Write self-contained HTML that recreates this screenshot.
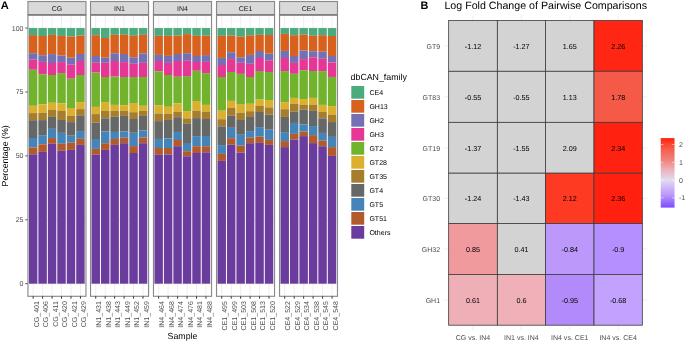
<!DOCTYPE html><html><head><meta charset="utf-8"><style>html,body{margin:0;padding:0;background:#fff;width:685px;height:342px;overflow:hidden}svg{display:block;will-change:transform}text{font-family:"Liberation Sans",sans-serif;text-rendering:geometricPrecision}</style></head><body>
<svg width="685" height="342" viewBox="0 0 685 342">
<rect width="685" height="342" fill="#fff"/>
<text x="0.7" y="8.8" font-size="11.1" font-weight="bold" fill="#000">A</text>
<line x1="27.95" x2="85.96" y1="251.74" y2="251.74" stroke="#F2F2F2" stroke-width="0.5"/>
<line x1="27.95" x2="85.96" y1="187.83" y2="187.83" stroke="#F2F2F2" stroke-width="0.5"/>
<line x1="27.95" x2="85.96" y1="123.92" y2="123.92" stroke="#F2F2F2" stroke-width="0.5"/>
<line x1="27.95" x2="85.96" y1="60.01" y2="60.01" stroke="#F2F2F2" stroke-width="0.5"/>
<line x1="27.95" x2="85.96" y1="283.7" y2="283.7" stroke="#EBEBEB" stroke-width="0.85"/>
<line x1="27.95" x2="85.96" y1="219.79" y2="219.79" stroke="#EBEBEB" stroke-width="0.85"/>
<line x1="27.95" x2="85.96" y1="155.88" y2="155.88" stroke="#EBEBEB" stroke-width="0.85"/>
<line x1="27.95" x2="85.96" y1="91.96" y2="91.96" stroke="#EBEBEB" stroke-width="0.85"/>
<line x1="27.95" x2="85.96" y1="28.05" y2="28.05" stroke="#EBEBEB" stroke-width="0.85"/>
<line x1="33.15" x2="33.15" y1="14.9" y2="296.3" stroke="#EBEBEB" stroke-width="0.85"/>
<line x1="42.61" x2="42.61" y1="14.9" y2="296.3" stroke="#EBEBEB" stroke-width="0.85"/>
<line x1="52.07" x2="52.07" y1="14.9" y2="296.3" stroke="#EBEBEB" stroke-width="0.85"/>
<line x1="61.53" x2="61.53" y1="14.9" y2="296.3" stroke="#EBEBEB" stroke-width="0.85"/>
<line x1="70.99" x2="70.99" y1="14.9" y2="296.3" stroke="#EBEBEB" stroke-width="0.85"/>
<line x1="80.45" x2="80.45" y1="14.9" y2="296.3" stroke="#EBEBEB" stroke-width="0.85"/>
<rect x="28.92" y="28.05" width="8.45" height="7.05" fill="#4BAA7E"/>
<rect x="28.92" y="35.1" width="8.45" height="18.1" fill="#D8611D"/>
<rect x="28.92" y="53.2" width="8.45" height="6.5" fill="#7570B3"/>
<rect x="28.92" y="59.7" width="8.45" height="10.1" fill="#E73796"/>
<rect x="28.92" y="69.8" width="8.45" height="36" fill="#72B32E"/>
<rect x="28.92" y="105.8" width="8.45" height="7.3" fill="#DAB02E"/>
<rect x="28.92" y="113.1" width="8.45" height="7.1" fill="#A57D2C"/>
<rect x="28.92" y="120.2" width="8.45" height="17.8" fill="#656866"/>
<rect x="28.92" y="138" width="8.45" height="9.5" fill="#4584B8"/>
<rect x="28.92" y="147.5" width="8.45" height="6.8" fill="#B25A2C"/>
<rect x="28.92" y="154.3" width="8.45" height="129.4" fill="#6A3C9E"/>
<rect x="38.38" y="28.05" width="8.45" height="7.95" fill="#4BAA7E"/>
<rect x="38.38" y="36" width="8.45" height="19.2" fill="#D8611D"/>
<rect x="38.38" y="55.2" width="8.45" height="6.7" fill="#7570B3"/>
<rect x="38.38" y="61.9" width="8.45" height="12.3" fill="#E73796"/>
<rect x="38.38" y="74.2" width="8.45" height="30.1" fill="#72B32E"/>
<rect x="38.38" y="104.3" width="8.45" height="8.5" fill="#DAB02E"/>
<rect x="38.38" y="112.8" width="8.45" height="7.3" fill="#A57D2C"/>
<rect x="38.38" y="120.1" width="8.45" height="15.05" fill="#656866"/>
<rect x="38.38" y="135.15" width="8.45" height="9.15" fill="#4584B8"/>
<rect x="38.38" y="144.3" width="8.45" height="7.6" fill="#B25A2C"/>
<rect x="38.38" y="151.9" width="8.45" height="131.8" fill="#6A3C9E"/>
<rect x="47.84" y="28.05" width="8.45" height="6.85" fill="#4BAA7E"/>
<rect x="47.84" y="34.9" width="8.45" height="19.2" fill="#D8611D"/>
<rect x="47.84" y="54.1" width="8.45" height="8.9" fill="#7570B3"/>
<rect x="47.84" y="63" width="8.45" height="12" fill="#E73796"/>
<rect x="47.84" y="75" width="8.45" height="27.8" fill="#72B32E"/>
<rect x="47.84" y="102.8" width="8.45" height="7.1" fill="#DAB02E"/>
<rect x="47.84" y="109.9" width="8.45" height="7" fill="#A57D2C"/>
<rect x="47.84" y="116.9" width="8.45" height="11.95" fill="#656866"/>
<rect x="47.84" y="128.85" width="8.45" height="9.2" fill="#4584B8"/>
<rect x="47.84" y="138.05" width="8.45" height="5.75" fill="#B25A2C"/>
<rect x="47.84" y="143.8" width="8.45" height="139.9" fill="#6A3C9E"/>
<rect x="57.3" y="28.05" width="8.45" height="7.85" fill="#4BAA7E"/>
<rect x="57.3" y="35.9" width="8.45" height="19.7" fill="#D8611D"/>
<rect x="57.3" y="55.6" width="8.45" height="6.5" fill="#7570B3"/>
<rect x="57.3" y="62.1" width="8.45" height="11" fill="#E73796"/>
<rect x="57.3" y="73.1" width="8.45" height="30.2" fill="#72B32E"/>
<rect x="57.3" y="103.3" width="8.45" height="7.7" fill="#DAB02E"/>
<rect x="57.3" y="111" width="8.45" height="9" fill="#A57D2C"/>
<rect x="57.3" y="120" width="8.45" height="12.9" fill="#656866"/>
<rect x="57.3" y="132.9" width="8.45" height="10.9" fill="#4584B8"/>
<rect x="57.3" y="143.8" width="8.45" height="7" fill="#B25A2C"/>
<rect x="57.3" y="150.8" width="8.45" height="132.9" fill="#6A3C9E"/>
<rect x="66.77" y="28.05" width="8.45" height="8.55" fill="#4BAA7E"/>
<rect x="66.77" y="36.6" width="8.45" height="21.1" fill="#D8611D"/>
<rect x="66.77" y="57.7" width="8.45" height="7" fill="#7570B3"/>
<rect x="66.77" y="64.7" width="8.45" height="14" fill="#E73796"/>
<rect x="66.77" y="78.7" width="8.45" height="29.3" fill="#72B32E"/>
<rect x="66.77" y="108" width="8.45" height="7.9" fill="#DAB02E"/>
<rect x="66.77" y="115.9" width="8.45" height="6.2" fill="#A57D2C"/>
<rect x="66.77" y="122.1" width="8.45" height="13.6" fill="#656866"/>
<rect x="66.77" y="135.7" width="8.45" height="7" fill="#4584B8"/>
<rect x="66.77" y="142.7" width="8.45" height="7.2" fill="#B25A2C"/>
<rect x="66.77" y="149.9" width="8.45" height="133.8" fill="#6A3C9E"/>
<rect x="76.23" y="28.05" width="8.45" height="7.55" fill="#4BAA7E"/>
<rect x="76.23" y="35.6" width="8.45" height="18.35" fill="#D8611D"/>
<rect x="76.23" y="53.95" width="8.45" height="7.05" fill="#7570B3"/>
<rect x="76.23" y="61" width="8.45" height="14" fill="#E73796"/>
<rect x="76.23" y="75" width="8.45" height="27.1" fill="#72B32E"/>
<rect x="76.23" y="102.1" width="8.45" height="7" fill="#DAB02E"/>
<rect x="76.23" y="109.1" width="8.45" height="6.8" fill="#A57D2C"/>
<rect x="76.23" y="115.9" width="8.45" height="15.15" fill="#656866"/>
<rect x="76.23" y="131.05" width="8.45" height="7.8" fill="#4584B8"/>
<rect x="76.23" y="138.85" width="8.45" height="6.05" fill="#B25A2C"/>
<rect x="76.23" y="144.9" width="8.45" height="138.8" fill="#6A3C9E"/>
<rect x="27.95" y="1.5" width="58.01" height="13.4" fill="#D9D9D9" stroke="#8A8A8A" stroke-width="1.15"/>
<rect x="27.95" y="14.9" width="58.01" height="281.4" fill="none" stroke="#8A8A8A" stroke-width="1.15"/>
<line x1="27.95" x2="85.96" y1="14.7" y2="14.7" stroke="#7E7E7E" stroke-width="1.6"/>
<text x="56.95" y="10.75" font-size="7.04" fill="#1A1A1A" text-anchor="middle">CG</text>
<line x1="33.15" x2="33.15" y1="296.3" y2="298.7" stroke="#333" stroke-width="1"/>
<text transform="translate(38.9,301.1) rotate(-90)" font-size="7.04" fill="#4D4D4D" text-anchor="end">CG_401</text>
<line x1="42.61" x2="42.61" y1="296.3" y2="298.7" stroke="#333" stroke-width="1"/>
<text transform="translate(48.36,301.1) rotate(-90)" font-size="7.04" fill="#4D4D4D" text-anchor="end">CG_406</text>
<line x1="52.07" x2="52.07" y1="296.3" y2="298.7" stroke="#333" stroke-width="1"/>
<text transform="translate(57.82,301.1) rotate(-90)" font-size="7.04" fill="#4D4D4D" text-anchor="end">CG_411</text>
<line x1="61.53" x2="61.53" y1="296.3" y2="298.7" stroke="#333" stroke-width="1"/>
<text transform="translate(67.28,301.1) rotate(-90)" font-size="7.04" fill="#4D4D4D" text-anchor="end">CG_420</text>
<line x1="70.99" x2="70.99" y1="296.3" y2="298.7" stroke="#333" stroke-width="1"/>
<text transform="translate(76.74,301.1) rotate(-90)" font-size="7.04" fill="#4D4D4D" text-anchor="end">CG_421</text>
<line x1="80.45" x2="80.45" y1="296.3" y2="298.7" stroke="#333" stroke-width="1"/>
<text transform="translate(86.2,301.1) rotate(-90)" font-size="7.04" fill="#4D4D4D" text-anchor="end">CG_429</text>
<line x1="90.53" x2="148.56" y1="251.74" y2="251.74" stroke="#F2F2F2" stroke-width="0.5"/>
<line x1="90.53" x2="148.56" y1="187.83" y2="187.83" stroke="#F2F2F2" stroke-width="0.5"/>
<line x1="90.53" x2="148.56" y1="123.92" y2="123.92" stroke="#F2F2F2" stroke-width="0.5"/>
<line x1="90.53" x2="148.56" y1="60.01" y2="60.01" stroke="#F2F2F2" stroke-width="0.5"/>
<line x1="90.53" x2="148.56" y1="283.7" y2="283.7" stroke="#EBEBEB" stroke-width="0.85"/>
<line x1="90.53" x2="148.56" y1="219.79" y2="219.79" stroke="#EBEBEB" stroke-width="0.85"/>
<line x1="90.53" x2="148.56" y1="155.88" y2="155.88" stroke="#EBEBEB" stroke-width="0.85"/>
<line x1="90.53" x2="148.56" y1="91.96" y2="91.96" stroke="#EBEBEB" stroke-width="0.85"/>
<line x1="90.53" x2="148.56" y1="28.05" y2="28.05" stroke="#EBEBEB" stroke-width="0.85"/>
<line x1="95.73" x2="95.73" y1="14.9" y2="296.3" stroke="#EBEBEB" stroke-width="0.85"/>
<line x1="105.19" x2="105.19" y1="14.9" y2="296.3" stroke="#EBEBEB" stroke-width="0.85"/>
<line x1="114.65" x2="114.65" y1="14.9" y2="296.3" stroke="#EBEBEB" stroke-width="0.85"/>
<line x1="124.11" x2="124.11" y1="14.9" y2="296.3" stroke="#EBEBEB" stroke-width="0.85"/>
<line x1="133.57" x2="133.57" y1="14.9" y2="296.3" stroke="#EBEBEB" stroke-width="0.85"/>
<line x1="143.03" x2="143.03" y1="14.9" y2="296.3" stroke="#EBEBEB" stroke-width="0.85"/>
<rect x="91.51" y="28.05" width="8.45" height="7.15" fill="#4BAA7E"/>
<rect x="91.51" y="35.2" width="8.45" height="20.8" fill="#D8611D"/>
<rect x="91.51" y="56" width="8.45" height="6.8" fill="#7570B3"/>
<rect x="91.51" y="62.8" width="8.45" height="9.8" fill="#E73796"/>
<rect x="91.51" y="72.6" width="8.45" height="34.3" fill="#72B32E"/>
<rect x="91.51" y="106.9" width="8.45" height="7.2" fill="#DAB02E"/>
<rect x="91.51" y="114.1" width="8.45" height="8.6" fill="#A57D2C"/>
<rect x="91.51" y="122.7" width="8.45" height="16.3" fill="#656866"/>
<rect x="91.51" y="139" width="8.45" height="9.9" fill="#4584B8"/>
<rect x="91.51" y="148.9" width="8.45" height="5.9" fill="#B25A2C"/>
<rect x="91.51" y="154.8" width="8.45" height="128.9" fill="#6A3C9E"/>
<rect x="100.97" y="28.05" width="8.45" height="9.95" fill="#4BAA7E"/>
<rect x="100.97" y="38" width="8.45" height="19.7" fill="#D8611D"/>
<rect x="100.97" y="57.7" width="8.45" height="5.1" fill="#7570B3"/>
<rect x="100.97" y="62.8" width="8.45" height="14.2" fill="#E73796"/>
<rect x="100.97" y="77" width="8.45" height="25.1" fill="#72B32E"/>
<rect x="100.97" y="102.1" width="8.45" height="8.8" fill="#DAB02E"/>
<rect x="100.97" y="110.9" width="8.45" height="7.4" fill="#A57D2C"/>
<rect x="100.97" y="118.3" width="8.45" height="13.2" fill="#656866"/>
<rect x="100.97" y="131.5" width="8.45" height="11.7" fill="#4584B8"/>
<rect x="100.97" y="143.2" width="8.45" height="6.7" fill="#B25A2C"/>
<rect x="100.97" y="149.9" width="8.45" height="133.8" fill="#6A3C9E"/>
<rect x="110.43" y="28.05" width="8.45" height="6.75" fill="#4BAA7E"/>
<rect x="110.43" y="34.8" width="8.45" height="18.5" fill="#D8611D"/>
<rect x="110.43" y="53.3" width="8.45" height="7.7" fill="#7570B3"/>
<rect x="110.43" y="61" width="8.45" height="15.6" fill="#E73796"/>
<rect x="110.43" y="76.6" width="8.45" height="28.3" fill="#72B32E"/>
<rect x="110.43" y="104.9" width="8.45" height="6" fill="#DAB02E"/>
<rect x="110.43" y="110.9" width="8.45" height="5.9" fill="#A57D2C"/>
<rect x="110.43" y="116.8" width="8.45" height="15.15" fill="#656866"/>
<rect x="110.43" y="131.95" width="8.45" height="7" fill="#4584B8"/>
<rect x="110.43" y="138.95" width="8.45" height="5.95" fill="#B25A2C"/>
<rect x="110.43" y="144.9" width="8.45" height="138.8" fill="#6A3C9E"/>
<rect x="119.89" y="28.05" width="8.45" height="6.75" fill="#4BAA7E"/>
<rect x="119.89" y="34.8" width="8.45" height="19.2" fill="#D8611D"/>
<rect x="119.89" y="54" width="8.45" height="8.1" fill="#7570B3"/>
<rect x="119.89" y="62.1" width="8.45" height="14.9" fill="#E73796"/>
<rect x="119.89" y="77" width="8.45" height="28.2" fill="#72B32E"/>
<rect x="119.89" y="105.2" width="8.45" height="5.7" fill="#DAB02E"/>
<rect x="119.89" y="110.9" width="8.45" height="5" fill="#A57D2C"/>
<rect x="119.89" y="115.9" width="8.45" height="15.6" fill="#656866"/>
<rect x="119.89" y="131.5" width="8.45" height="6.2" fill="#4584B8"/>
<rect x="119.89" y="137.7" width="8.45" height="5.5" fill="#B25A2C"/>
<rect x="119.89" y="143.2" width="8.45" height="140.5" fill="#6A3C9E"/>
<rect x="129.34" y="28.05" width="8.45" height="7.75" fill="#4BAA7E"/>
<rect x="129.34" y="35.8" width="8.45" height="21.5" fill="#D8611D"/>
<rect x="129.34" y="57.3" width="8.45" height="6.5" fill="#7570B3"/>
<rect x="129.34" y="63.8" width="8.45" height="13.2" fill="#E73796"/>
<rect x="129.34" y="77" width="8.45" height="26" fill="#72B32E"/>
<rect x="129.34" y="103" width="8.45" height="9.2" fill="#DAB02E"/>
<rect x="129.34" y="112.2" width="8.45" height="6.8" fill="#A57D2C"/>
<rect x="129.34" y="119" width="8.45" height="13.8" fill="#656866"/>
<rect x="129.34" y="132.8" width="8.45" height="13.3" fill="#4584B8"/>
<rect x="129.34" y="146.1" width="8.45" height="6.9" fill="#B25A2C"/>
<rect x="129.34" y="153" width="8.45" height="130.7" fill="#6A3C9E"/>
<rect x="138.81" y="28.05" width="8.45" height="6.75" fill="#4BAA7E"/>
<rect x="138.81" y="34.8" width="8.45" height="18.5" fill="#D8611D"/>
<rect x="138.81" y="53.3" width="8.45" height="9.55" fill="#7570B3"/>
<rect x="138.81" y="62.85" width="8.45" height="14.15" fill="#E73796"/>
<rect x="138.81" y="77" width="8.45" height="28.8" fill="#72B32E"/>
<rect x="138.81" y="105.8" width="8.45" height="5.1" fill="#DAB02E"/>
<rect x="138.81" y="110.9" width="8.45" height="5" fill="#A57D2C"/>
<rect x="138.81" y="115.9" width="8.45" height="14.6" fill="#656866"/>
<rect x="138.81" y="130.5" width="8.45" height="7.1" fill="#4584B8"/>
<rect x="138.81" y="137.6" width="8.45" height="5.6" fill="#B25A2C"/>
<rect x="138.81" y="143.2" width="8.45" height="140.5" fill="#6A3C9E"/>
<rect x="90.53" y="1.5" width="58.03" height="13.4" fill="#D9D9D9" stroke="#8A8A8A" stroke-width="1.15"/>
<rect x="90.53" y="14.9" width="58.03" height="281.4" fill="none" stroke="#8A8A8A" stroke-width="1.15"/>
<line x1="90.53" x2="148.56" y1="14.7" y2="14.7" stroke="#7E7E7E" stroke-width="1.6"/>
<text x="119.55" y="10.75" font-size="7.04" fill="#1A1A1A" text-anchor="middle">IN1</text>
<line x1="95.73" x2="95.73" y1="296.3" y2="298.7" stroke="#333" stroke-width="1"/>
<text transform="translate(101.48,301.1) rotate(-90)" font-size="7.04" fill="#4D4D4D" text-anchor="end">IN1_431</text>
<line x1="105.19" x2="105.19" y1="296.3" y2="298.7" stroke="#333" stroke-width="1"/>
<text transform="translate(110.94,301.1) rotate(-90)" font-size="7.04" fill="#4D4D4D" text-anchor="end">IN1_438</text>
<line x1="114.65" x2="114.65" y1="296.3" y2="298.7" stroke="#333" stroke-width="1"/>
<text transform="translate(120.4,301.1) rotate(-90)" font-size="7.04" fill="#4D4D4D" text-anchor="end">IN1_443</text>
<line x1="124.11" x2="124.11" y1="296.3" y2="298.7" stroke="#333" stroke-width="1"/>
<text transform="translate(129.86,301.1) rotate(-90)" font-size="7.04" fill="#4D4D4D" text-anchor="end">IN1_449</text>
<line x1="133.57" x2="133.57" y1="296.3" y2="298.7" stroke="#333" stroke-width="1"/>
<text transform="translate(139.32,301.1) rotate(-90)" font-size="7.04" fill="#4D4D4D" text-anchor="end">IN1_452</text>
<line x1="143.03" x2="143.03" y1="296.3" y2="298.7" stroke="#333" stroke-width="1"/>
<text transform="translate(148.78,301.1) rotate(-90)" font-size="7.04" fill="#4D4D4D" text-anchor="end">IN1_459</text>
<line x1="153.47" x2="211.54" y1="251.74" y2="251.74" stroke="#F2F2F2" stroke-width="0.5"/>
<line x1="153.47" x2="211.54" y1="187.83" y2="187.83" stroke="#F2F2F2" stroke-width="0.5"/>
<line x1="153.47" x2="211.54" y1="123.92" y2="123.92" stroke="#F2F2F2" stroke-width="0.5"/>
<line x1="153.47" x2="211.54" y1="60.01" y2="60.01" stroke="#F2F2F2" stroke-width="0.5"/>
<line x1="153.47" x2="211.54" y1="283.7" y2="283.7" stroke="#EBEBEB" stroke-width="0.85"/>
<line x1="153.47" x2="211.54" y1="219.79" y2="219.79" stroke="#EBEBEB" stroke-width="0.85"/>
<line x1="153.47" x2="211.54" y1="155.88" y2="155.88" stroke="#EBEBEB" stroke-width="0.85"/>
<line x1="153.47" x2="211.54" y1="91.96" y2="91.96" stroke="#EBEBEB" stroke-width="0.85"/>
<line x1="153.47" x2="211.54" y1="28.05" y2="28.05" stroke="#EBEBEB" stroke-width="0.85"/>
<line x1="158.67" x2="158.67" y1="14.9" y2="296.3" stroke="#EBEBEB" stroke-width="0.85"/>
<line x1="168.13" x2="168.13" y1="14.9" y2="296.3" stroke="#EBEBEB" stroke-width="0.85"/>
<line x1="177.59" x2="177.59" y1="14.9" y2="296.3" stroke="#EBEBEB" stroke-width="0.85"/>
<line x1="187.05" x2="187.05" y1="14.9" y2="296.3" stroke="#EBEBEB" stroke-width="0.85"/>
<line x1="196.51" x2="196.51" y1="14.9" y2="296.3" stroke="#EBEBEB" stroke-width="0.85"/>
<line x1="205.97" x2="205.97" y1="14.9" y2="296.3" stroke="#EBEBEB" stroke-width="0.85"/>
<rect x="154.44" y="28.05" width="8.45" height="7.75" fill="#4BAA7E"/>
<rect x="154.44" y="35.8" width="8.45" height="19.1" fill="#D8611D"/>
<rect x="154.44" y="54.9" width="8.45" height="6.1" fill="#7570B3"/>
<rect x="154.44" y="61" width="8.45" height="10.3" fill="#E73796"/>
<rect x="154.44" y="71.3" width="8.45" height="33.9" fill="#72B32E"/>
<rect x="154.44" y="105.2" width="8.45" height="8.3" fill="#DAB02E"/>
<rect x="154.44" y="113.5" width="8.45" height="7.6" fill="#A57D2C"/>
<rect x="154.44" y="121.1" width="8.45" height="17.85" fill="#656866"/>
<rect x="154.44" y="138.95" width="8.45" height="9.05" fill="#4584B8"/>
<rect x="154.44" y="148" width="8.45" height="6.8" fill="#B25A2C"/>
<rect x="154.44" y="154.8" width="8.45" height="128.9" fill="#6A3C9E"/>
<rect x="163.91" y="28.05" width="8.45" height="7.75" fill="#4BAA7E"/>
<rect x="163.91" y="35.8" width="8.45" height="20.1" fill="#D8611D"/>
<rect x="163.91" y="55.9" width="8.45" height="7" fill="#7570B3"/>
<rect x="163.91" y="62.9" width="8.45" height="12.1" fill="#E73796"/>
<rect x="163.91" y="75" width="8.45" height="31.8" fill="#72B32E"/>
<rect x="163.91" y="106.8" width="8.45" height="7" fill="#DAB02E"/>
<rect x="163.91" y="113.8" width="8.45" height="6.2" fill="#A57D2C"/>
<rect x="163.91" y="120" width="8.45" height="18.5" fill="#656866"/>
<rect x="163.91" y="138.5" width="8.45" height="9.5" fill="#4584B8"/>
<rect x="163.91" y="148" width="8.45" height="6.5" fill="#B25A2C"/>
<rect x="163.91" y="154.5" width="8.45" height="129.2" fill="#6A3C9E"/>
<rect x="173.36" y="28.05" width="8.45" height="7.55" fill="#4BAA7E"/>
<rect x="173.36" y="35.6" width="8.45" height="18.4" fill="#D8611D"/>
<rect x="173.36" y="54" width="8.45" height="7" fill="#7570B3"/>
<rect x="173.36" y="61" width="8.45" height="15.8" fill="#E73796"/>
<rect x="173.36" y="76.8" width="8.45" height="26.6" fill="#72B32E"/>
<rect x="173.36" y="103.4" width="8.45" height="8.35" fill="#DAB02E"/>
<rect x="173.36" y="111.75" width="8.45" height="5.45" fill="#A57D2C"/>
<rect x="173.36" y="117.2" width="8.45" height="14.75" fill="#656866"/>
<rect x="173.36" y="131.95" width="8.45" height="8.05" fill="#4584B8"/>
<rect x="173.36" y="140" width="8.45" height="6.2" fill="#B25A2C"/>
<rect x="173.36" y="146.2" width="8.45" height="137.5" fill="#6A3C9E"/>
<rect x="182.82" y="28.05" width="8.45" height="6.05" fill="#4BAA7E"/>
<rect x="182.82" y="34.1" width="8.45" height="19.1" fill="#D8611D"/>
<rect x="182.82" y="53.2" width="8.45" height="7.6" fill="#7570B3"/>
<rect x="182.82" y="60.8" width="8.45" height="15.3" fill="#E73796"/>
<rect x="182.82" y="76.1" width="8.45" height="35" fill="#72B32E"/>
<rect x="182.82" y="111.1" width="8.45" height="7.3" fill="#DAB02E"/>
<rect x="182.82" y="118.4" width="8.45" height="5.4" fill="#A57D2C"/>
<rect x="182.82" y="123.8" width="8.45" height="19.2" fill="#656866"/>
<rect x="182.82" y="143" width="8.45" height="8.2" fill="#4584B8"/>
<rect x="182.82" y="151.2" width="8.45" height="5.1" fill="#B25A2C"/>
<rect x="182.82" y="156.3" width="8.45" height="127.4" fill="#6A3C9E"/>
<rect x="192.28" y="28.05" width="8.45" height="7.75" fill="#4BAA7E"/>
<rect x="192.28" y="35.8" width="8.45" height="20.2" fill="#D8611D"/>
<rect x="192.28" y="56" width="8.45" height="6" fill="#7570B3"/>
<rect x="192.28" y="62" width="8.45" height="8.8" fill="#E73796"/>
<rect x="192.28" y="70.8" width="8.45" height="30.2" fill="#72B32E"/>
<rect x="192.28" y="101" width="8.45" height="9.8" fill="#DAB02E"/>
<rect x="192.28" y="110.8" width="8.45" height="7.3" fill="#A57D2C"/>
<rect x="192.28" y="118.1" width="8.45" height="18" fill="#656866"/>
<rect x="192.28" y="136.1" width="8.45" height="10.1" fill="#4584B8"/>
<rect x="192.28" y="146.2" width="8.45" height="6.8" fill="#B25A2C"/>
<rect x="192.28" y="153" width="8.45" height="130.7" fill="#6A3C9E"/>
<rect x="201.75" y="28.05" width="8.45" height="7.55" fill="#4BAA7E"/>
<rect x="201.75" y="35.6" width="8.45" height="19.5" fill="#D8611D"/>
<rect x="201.75" y="55.1" width="8.45" height="6.8" fill="#7570B3"/>
<rect x="201.75" y="61.9" width="8.45" height="11.2" fill="#E73796"/>
<rect x="201.75" y="73.1" width="8.45" height="31.8" fill="#72B32E"/>
<rect x="201.75" y="104.9" width="8.45" height="7" fill="#DAB02E"/>
<rect x="201.75" y="111.9" width="8.45" height="7.1" fill="#A57D2C"/>
<rect x="201.75" y="119" width="8.45" height="17" fill="#656866"/>
<rect x="201.75" y="136" width="8.45" height="10.2" fill="#4584B8"/>
<rect x="201.75" y="146.2" width="8.45" height="6.1" fill="#B25A2C"/>
<rect x="201.75" y="152.3" width="8.45" height="131.4" fill="#6A3C9E"/>
<rect x="153.47" y="1.5" width="58.07" height="13.4" fill="#D9D9D9" stroke="#8A8A8A" stroke-width="1.15"/>
<rect x="153.47" y="14.9" width="58.07" height="281.4" fill="none" stroke="#8A8A8A" stroke-width="1.15"/>
<line x1="153.47" x2="211.54" y1="14.7" y2="14.7" stroke="#7E7E7E" stroke-width="1.6"/>
<text x="182.5" y="10.75" font-size="7.04" fill="#1A1A1A" text-anchor="middle">IN4</text>
<line x1="158.67" x2="158.67" y1="296.3" y2="298.7" stroke="#333" stroke-width="1"/>
<text transform="translate(164.42,301.1) rotate(-90)" font-size="7.04" fill="#4D4D4D" text-anchor="end">IN4_464</text>
<line x1="168.13" x2="168.13" y1="296.3" y2="298.7" stroke="#333" stroke-width="1"/>
<text transform="translate(173.88,301.1) rotate(-90)" font-size="7.04" fill="#4D4D4D" text-anchor="end">IN4_468</text>
<line x1="177.59" x2="177.59" y1="296.3" y2="298.7" stroke="#333" stroke-width="1"/>
<text transform="translate(183.34,301.1) rotate(-90)" font-size="7.04" fill="#4D4D4D" text-anchor="end">IN4_474</text>
<line x1="187.05" x2="187.05" y1="296.3" y2="298.7" stroke="#333" stroke-width="1"/>
<text transform="translate(192.8,301.1) rotate(-90)" font-size="7.04" fill="#4D4D4D" text-anchor="end">IN4_476</text>
<line x1="196.51" x2="196.51" y1="296.3" y2="298.7" stroke="#333" stroke-width="1"/>
<text transform="translate(202.26,301.1) rotate(-90)" font-size="7.04" fill="#4D4D4D" text-anchor="end">IN4_481</text>
<line x1="205.97" x2="205.97" y1="296.3" y2="298.7" stroke="#333" stroke-width="1"/>
<text transform="translate(211.72,301.1) rotate(-90)" font-size="7.04" fill="#4D4D4D" text-anchor="end">IN4_488</text>
<line x1="216.53" x2="274.54" y1="251.74" y2="251.74" stroke="#F2F2F2" stroke-width="0.5"/>
<line x1="216.53" x2="274.54" y1="187.83" y2="187.83" stroke="#F2F2F2" stroke-width="0.5"/>
<line x1="216.53" x2="274.54" y1="123.92" y2="123.92" stroke="#F2F2F2" stroke-width="0.5"/>
<line x1="216.53" x2="274.54" y1="60.01" y2="60.01" stroke="#F2F2F2" stroke-width="0.5"/>
<line x1="216.53" x2="274.54" y1="283.7" y2="283.7" stroke="#EBEBEB" stroke-width="0.85"/>
<line x1="216.53" x2="274.54" y1="219.79" y2="219.79" stroke="#EBEBEB" stroke-width="0.85"/>
<line x1="216.53" x2="274.54" y1="155.88" y2="155.88" stroke="#EBEBEB" stroke-width="0.85"/>
<line x1="216.53" x2="274.54" y1="91.96" y2="91.96" stroke="#EBEBEB" stroke-width="0.85"/>
<line x1="216.53" x2="274.54" y1="28.05" y2="28.05" stroke="#EBEBEB" stroke-width="0.85"/>
<line x1="221.73" x2="221.73" y1="14.9" y2="296.3" stroke="#EBEBEB" stroke-width="0.85"/>
<line x1="231.19" x2="231.19" y1="14.9" y2="296.3" stroke="#EBEBEB" stroke-width="0.85"/>
<line x1="240.65" x2="240.65" y1="14.9" y2="296.3" stroke="#EBEBEB" stroke-width="0.85"/>
<line x1="250.11" x2="250.11" y1="14.9" y2="296.3" stroke="#EBEBEB" stroke-width="0.85"/>
<line x1="259.57" x2="259.57" y1="14.9" y2="296.3" stroke="#EBEBEB" stroke-width="0.85"/>
<line x1="269.03" x2="269.03" y1="14.9" y2="296.3" stroke="#EBEBEB" stroke-width="0.85"/>
<rect x="217.5" y="28.05" width="8.45" height="7.75" fill="#4BAA7E"/>
<rect x="217.5" y="35.8" width="8.45" height="22.1" fill="#D8611D"/>
<rect x="217.5" y="57.9" width="8.45" height="7.1" fill="#7570B3"/>
<rect x="217.5" y="65" width="8.45" height="12" fill="#E73796"/>
<rect x="217.5" y="77" width="8.45" height="33.7" fill="#72B32E"/>
<rect x="217.5" y="110.7" width="8.45" height="8.5" fill="#DAB02E"/>
<rect x="217.5" y="119.2" width="8.45" height="7.1" fill="#A57D2C"/>
<rect x="217.5" y="126.3" width="8.45" height="18.8" fill="#656866"/>
<rect x="217.5" y="145.1" width="8.45" height="8.8" fill="#4584B8"/>
<rect x="217.5" y="153.9" width="8.45" height="7" fill="#B25A2C"/>
<rect x="217.5" y="160.9" width="8.45" height="122.8" fill="#6A3C9E"/>
<rect x="226.97" y="28.05" width="8.45" height="7.45" fill="#4BAA7E"/>
<rect x="226.97" y="35.5" width="8.45" height="16.7" fill="#D8611D"/>
<rect x="226.97" y="52.2" width="8.45" height="6.9" fill="#7570B3"/>
<rect x="226.97" y="59.1" width="8.45" height="12.9" fill="#E73796"/>
<rect x="226.97" y="72" width="8.45" height="28.9" fill="#72B32E"/>
<rect x="226.97" y="100.9" width="8.45" height="7.1" fill="#DAB02E"/>
<rect x="226.97" y="108" width="8.45" height="7.8" fill="#A57D2C"/>
<rect x="226.97" y="115.8" width="8.45" height="12.05" fill="#656866"/>
<rect x="226.97" y="127.85" width="8.45" height="10.3" fill="#4584B8"/>
<rect x="226.97" y="138.15" width="8.45" height="6.55" fill="#B25A2C"/>
<rect x="226.97" y="144.7" width="8.45" height="139" fill="#6A3C9E"/>
<rect x="236.42" y="28.05" width="8.45" height="8.65" fill="#4BAA7E"/>
<rect x="236.42" y="36.7" width="8.45" height="20.6" fill="#D8611D"/>
<rect x="236.42" y="57.3" width="8.45" height="5.5" fill="#7570B3"/>
<rect x="236.42" y="62.8" width="8.45" height="11.1" fill="#E73796"/>
<rect x="236.42" y="73.9" width="8.45" height="30.1" fill="#72B32E"/>
<rect x="236.42" y="104" width="8.45" height="8.9" fill="#DAB02E"/>
<rect x="236.42" y="112.9" width="8.45" height="7.1" fill="#A57D2C"/>
<rect x="236.42" y="120" width="8.45" height="14.8" fill="#656866"/>
<rect x="236.42" y="134.8" width="8.45" height="10.8" fill="#4584B8"/>
<rect x="236.42" y="145.6" width="8.45" height="7" fill="#B25A2C"/>
<rect x="236.42" y="152.6" width="8.45" height="131.1" fill="#6A3C9E"/>
<rect x="245.88" y="28.05" width="8.45" height="7.25" fill="#4BAA7E"/>
<rect x="245.88" y="35.3" width="8.45" height="19.6" fill="#D8611D"/>
<rect x="245.88" y="54.9" width="8.45" height="8.9" fill="#7570B3"/>
<rect x="245.88" y="63.8" width="8.45" height="13.2" fill="#E73796"/>
<rect x="245.88" y="77" width="8.45" height="26.8" fill="#72B32E"/>
<rect x="245.88" y="103.8" width="8.45" height="7.4" fill="#DAB02E"/>
<rect x="245.88" y="111.2" width="8.45" height="5.8" fill="#A57D2C"/>
<rect x="245.88" y="117" width="8.45" height="14.1" fill="#656866"/>
<rect x="245.88" y="131.1" width="8.45" height="6.6" fill="#4584B8"/>
<rect x="245.88" y="137.7" width="8.45" height="5.5" fill="#B25A2C"/>
<rect x="245.88" y="143.2" width="8.45" height="140.5" fill="#6A3C9E"/>
<rect x="255.34" y="28.05" width="8.45" height="6.75" fill="#4BAA7E"/>
<rect x="255.34" y="34.8" width="8.45" height="16.2" fill="#D8611D"/>
<rect x="255.34" y="51" width="8.45" height="7" fill="#7570B3"/>
<rect x="255.34" y="58" width="8.45" height="13" fill="#E73796"/>
<rect x="255.34" y="71" width="8.45" height="28.6" fill="#72B32E"/>
<rect x="255.34" y="99.6" width="8.45" height="6.3" fill="#DAB02E"/>
<rect x="255.34" y="105.9" width="8.45" height="6.1" fill="#A57D2C"/>
<rect x="255.34" y="112" width="8.45" height="15.1" fill="#656866"/>
<rect x="255.34" y="127.1" width="8.45" height="9.6" fill="#4584B8"/>
<rect x="255.34" y="136.7" width="8.45" height="6.2" fill="#B25A2C"/>
<rect x="255.34" y="142.9" width="8.45" height="140.8" fill="#6A3C9E"/>
<rect x="264.8" y="28.05" width="8.45" height="6.95" fill="#4BAA7E"/>
<rect x="264.8" y="35" width="8.45" height="18.7" fill="#D8611D"/>
<rect x="264.8" y="53.7" width="8.45" height="7" fill="#7570B3"/>
<rect x="264.8" y="60.7" width="8.45" height="11.3" fill="#E73796"/>
<rect x="264.8" y="72" width="8.45" height="28" fill="#72B32E"/>
<rect x="264.8" y="100" width="8.45" height="7.4" fill="#DAB02E"/>
<rect x="264.8" y="107.4" width="8.45" height="7.2" fill="#A57D2C"/>
<rect x="264.8" y="114.6" width="8.45" height="15.1" fill="#656866"/>
<rect x="264.8" y="129.7" width="8.45" height="10.2" fill="#4584B8"/>
<rect x="264.8" y="139.9" width="8.45" height="5" fill="#B25A2C"/>
<rect x="264.8" y="144.9" width="8.45" height="138.8" fill="#6A3C9E"/>
<rect x="216.53" y="1.5" width="58.01" height="13.4" fill="#D9D9D9" stroke="#8A8A8A" stroke-width="1.15"/>
<rect x="216.53" y="14.9" width="58.01" height="281.4" fill="none" stroke="#8A8A8A" stroke-width="1.15"/>
<line x1="216.53" x2="274.54" y1="14.7" y2="14.7" stroke="#7E7E7E" stroke-width="1.6"/>
<text x="245.54" y="10.75" font-size="7.04" fill="#1A1A1A" text-anchor="middle">CE1</text>
<line x1="221.73" x2="221.73" y1="296.3" y2="298.7" stroke="#333" stroke-width="1"/>
<text transform="translate(227.48,301.1) rotate(-90)" font-size="7.04" fill="#4D4D4D" text-anchor="end">CE1_495</text>
<line x1="231.19" x2="231.19" y1="296.3" y2="298.7" stroke="#333" stroke-width="1"/>
<text transform="translate(236.94,301.1) rotate(-90)" font-size="7.04" fill="#4D4D4D" text-anchor="end">CE1_499</text>
<line x1="240.65" x2="240.65" y1="296.3" y2="298.7" stroke="#333" stroke-width="1"/>
<text transform="translate(246.4,301.1) rotate(-90)" font-size="7.04" fill="#4D4D4D" text-anchor="end">CE1_503</text>
<line x1="250.11" x2="250.11" y1="296.3" y2="298.7" stroke="#333" stroke-width="1"/>
<text transform="translate(255.86,301.1) rotate(-90)" font-size="7.04" fill="#4D4D4D" text-anchor="end">CE1_508</text>
<line x1="259.57" x2="259.57" y1="296.3" y2="298.7" stroke="#333" stroke-width="1"/>
<text transform="translate(265.32,301.1) rotate(-90)" font-size="7.04" fill="#4D4D4D" text-anchor="end">CE1_513</text>
<line x1="269.03" x2="269.03" y1="296.3" y2="298.7" stroke="#333" stroke-width="1"/>
<text transform="translate(274.78,301.1) rotate(-90)" font-size="7.04" fill="#4D4D4D" text-anchor="end">CE1_520</text>
<line x1="279.53" x2="337.49" y1="251.74" y2="251.74" stroke="#F2F2F2" stroke-width="0.5"/>
<line x1="279.53" x2="337.49" y1="187.83" y2="187.83" stroke="#F2F2F2" stroke-width="0.5"/>
<line x1="279.53" x2="337.49" y1="123.92" y2="123.92" stroke="#F2F2F2" stroke-width="0.5"/>
<line x1="279.53" x2="337.49" y1="60.01" y2="60.01" stroke="#F2F2F2" stroke-width="0.5"/>
<line x1="279.53" x2="337.49" y1="283.7" y2="283.7" stroke="#EBEBEB" stroke-width="0.85"/>
<line x1="279.53" x2="337.49" y1="219.79" y2="219.79" stroke="#EBEBEB" stroke-width="0.85"/>
<line x1="279.53" x2="337.49" y1="155.88" y2="155.88" stroke="#EBEBEB" stroke-width="0.85"/>
<line x1="279.53" x2="337.49" y1="91.96" y2="91.96" stroke="#EBEBEB" stroke-width="0.85"/>
<line x1="279.53" x2="337.49" y1="28.05" y2="28.05" stroke="#EBEBEB" stroke-width="0.85"/>
<line x1="284.73" x2="284.73" y1="14.9" y2="296.3" stroke="#EBEBEB" stroke-width="0.85"/>
<line x1="294.19" x2="294.19" y1="14.9" y2="296.3" stroke="#EBEBEB" stroke-width="0.85"/>
<line x1="303.65" x2="303.65" y1="14.9" y2="296.3" stroke="#EBEBEB" stroke-width="0.85"/>
<line x1="313.11" x2="313.11" y1="14.9" y2="296.3" stroke="#EBEBEB" stroke-width="0.85"/>
<line x1="322.57" x2="322.57" y1="14.9" y2="296.3" stroke="#EBEBEB" stroke-width="0.85"/>
<line x1="332.03" x2="332.03" y1="14.9" y2="296.3" stroke="#EBEBEB" stroke-width="0.85"/>
<rect x="280.5" y="28.05" width="8.45" height="5.85" fill="#4BAA7E"/>
<rect x="280.5" y="33.9" width="8.45" height="17" fill="#D8611D"/>
<rect x="280.5" y="50.9" width="8.45" height="7.1" fill="#7570B3"/>
<rect x="280.5" y="58" width="8.45" height="13.1" fill="#E73796"/>
<rect x="280.5" y="71.1" width="8.45" height="31" fill="#72B32E"/>
<rect x="280.5" y="102.1" width="8.45" height="7.1" fill="#DAB02E"/>
<rect x="280.5" y="109.2" width="8.45" height="7.7" fill="#A57D2C"/>
<rect x="280.5" y="116.9" width="8.45" height="15.2" fill="#656866"/>
<rect x="280.5" y="132.1" width="8.45" height="9" fill="#4584B8"/>
<rect x="280.5" y="141.1" width="8.45" height="6" fill="#B25A2C"/>
<rect x="280.5" y="147.1" width="8.45" height="136.6" fill="#6A3C9E"/>
<rect x="289.96" y="28.05" width="8.45" height="7.15" fill="#4BAA7E"/>
<rect x="289.96" y="35.2" width="8.45" height="20.8" fill="#D8611D"/>
<rect x="289.96" y="56" width="8.45" height="6.9" fill="#7570B3"/>
<rect x="289.96" y="62.9" width="8.45" height="10.95" fill="#E73796"/>
<rect x="289.96" y="73.85" width="8.45" height="24.05" fill="#72B32E"/>
<rect x="289.96" y="97.9" width="8.45" height="6" fill="#DAB02E"/>
<rect x="289.96" y="103.9" width="8.45" height="7.8" fill="#A57D2C"/>
<rect x="289.96" y="111.7" width="8.45" height="11.25" fill="#656866"/>
<rect x="289.96" y="122.95" width="8.45" height="10.95" fill="#4584B8"/>
<rect x="289.96" y="133.9" width="8.45" height="5.8" fill="#B25A2C"/>
<rect x="289.96" y="139.7" width="8.45" height="144" fill="#6A3C9E"/>
<rect x="299.42" y="28.05" width="8.45" height="6.65" fill="#4BAA7E"/>
<rect x="299.42" y="34.7" width="8.45" height="15.8" fill="#D8611D"/>
<rect x="299.42" y="50.5" width="8.45" height="8.6" fill="#7570B3"/>
<rect x="299.42" y="59.1" width="8.45" height="11.1" fill="#E73796"/>
<rect x="299.42" y="70.2" width="8.45" height="28.9" fill="#72B32E"/>
<rect x="299.42" y="99.1" width="8.45" height="5.8" fill="#DAB02E"/>
<rect x="299.42" y="104.9" width="8.45" height="4.6" fill="#A57D2C"/>
<rect x="299.42" y="109.5" width="8.45" height="14.9" fill="#656866"/>
<rect x="299.42" y="124.4" width="8.45" height="7.2" fill="#4584B8"/>
<rect x="299.42" y="131.6" width="8.45" height="4.5" fill="#B25A2C"/>
<rect x="299.42" y="136.1" width="8.45" height="147.6" fill="#6A3C9E"/>
<rect x="308.88" y="28.05" width="8.45" height="7.75" fill="#4BAA7E"/>
<rect x="308.88" y="35.8" width="8.45" height="15.4" fill="#D8611D"/>
<rect x="308.88" y="51.2" width="8.45" height="6.1" fill="#7570B3"/>
<rect x="308.88" y="57.3" width="8.45" height="13.7" fill="#E73796"/>
<rect x="308.88" y="71" width="8.45" height="26.9" fill="#72B32E"/>
<rect x="308.88" y="97.9" width="8.45" height="7.1" fill="#DAB02E"/>
<rect x="308.88" y="105" width="8.45" height="5.9" fill="#A57D2C"/>
<rect x="308.88" y="110.9" width="8.45" height="15.15" fill="#656866"/>
<rect x="308.88" y="126.05" width="8.45" height="9.05" fill="#4584B8"/>
<rect x="308.88" y="135.1" width="8.45" height="8" fill="#B25A2C"/>
<rect x="308.88" y="143.1" width="8.45" height="140.6" fill="#6A3C9E"/>
<rect x="318.34" y="28.05" width="8.45" height="7.15" fill="#4BAA7E"/>
<rect x="318.34" y="35.2" width="8.45" height="16.5" fill="#D8611D"/>
<rect x="318.34" y="51.7" width="8.45" height="7.1" fill="#7570B3"/>
<rect x="318.34" y="58.8" width="8.45" height="12.3" fill="#E73796"/>
<rect x="318.34" y="71.1" width="8.45" height="33.8" fill="#72B32E"/>
<rect x="318.34" y="104.9" width="8.45" height="7.1" fill="#DAB02E"/>
<rect x="318.34" y="112" width="8.45" height="6.3" fill="#A57D2C"/>
<rect x="318.34" y="118.3" width="8.45" height="14.65" fill="#656866"/>
<rect x="318.34" y="132.95" width="8.45" height="7.75" fill="#4584B8"/>
<rect x="318.34" y="140.7" width="8.45" height="5.5" fill="#B25A2C"/>
<rect x="318.34" y="146.2" width="8.45" height="137.5" fill="#6A3C9E"/>
<rect x="327.8" y="28.05" width="8.45" height="7.95" fill="#4BAA7E"/>
<rect x="327.8" y="36" width="8.45" height="20" fill="#D8611D"/>
<rect x="327.8" y="56" width="8.45" height="6.4" fill="#7570B3"/>
<rect x="327.8" y="62.4" width="8.45" height="14.55" fill="#E73796"/>
<rect x="327.8" y="76.95" width="8.45" height="29.15" fill="#72B32E"/>
<rect x="327.8" y="106.1" width="8.45" height="8.9" fill="#DAB02E"/>
<rect x="327.8" y="115" width="8.45" height="7.05" fill="#A57D2C"/>
<rect x="327.8" y="122.05" width="8.45" height="14.85" fill="#656866"/>
<rect x="327.8" y="136.9" width="8.45" height="10.2" fill="#4584B8"/>
<rect x="327.8" y="147.1" width="8.45" height="8.8" fill="#B25A2C"/>
<rect x="327.8" y="155.9" width="8.45" height="127.8" fill="#6A3C9E"/>
<rect x="279.53" y="1.5" width="57.96" height="13.4" fill="#D9D9D9" stroke="#8A8A8A" stroke-width="1.15"/>
<rect x="279.53" y="14.9" width="57.96" height="281.4" fill="none" stroke="#8A8A8A" stroke-width="1.15"/>
<line x1="279.53" x2="337.49" y1="14.7" y2="14.7" stroke="#7E7E7E" stroke-width="1.6"/>
<text x="308.51" y="10.75" font-size="7.04" fill="#1A1A1A" text-anchor="middle">CE4</text>
<line x1="284.73" x2="284.73" y1="296.3" y2="298.7" stroke="#333" stroke-width="1"/>
<text transform="translate(290.48,301.1) rotate(-90)" font-size="7.04" fill="#4D4D4D" text-anchor="end">CE4_522</text>
<line x1="294.19" x2="294.19" y1="296.3" y2="298.7" stroke="#333" stroke-width="1"/>
<text transform="translate(299.94,301.1) rotate(-90)" font-size="7.04" fill="#4D4D4D" text-anchor="end">CE4_529</text>
<line x1="303.65" x2="303.65" y1="296.3" y2="298.7" stroke="#333" stroke-width="1"/>
<text transform="translate(309.4,301.1) rotate(-90)" font-size="7.04" fill="#4D4D4D" text-anchor="end">CE4_534</text>
<line x1="313.11" x2="313.11" y1="296.3" y2="298.7" stroke="#333" stroke-width="1"/>
<text transform="translate(318.86,301.1) rotate(-90)" font-size="7.04" fill="#4D4D4D" text-anchor="end">CE4_538</text>
<line x1="322.57" x2="322.57" y1="296.3" y2="298.7" stroke="#333" stroke-width="1"/>
<text transform="translate(328.32,301.1) rotate(-90)" font-size="7.04" fill="#4D4D4D" text-anchor="end">CE4_545</text>
<line x1="332.03" x2="332.03" y1="296.3" y2="298.7" stroke="#333" stroke-width="1"/>
<text transform="translate(337.78,301.1) rotate(-90)" font-size="7.04" fill="#4D4D4D" text-anchor="end">CE4_548</text>
<line x1="25.3" x2="27.5" y1="283.7" y2="283.7" stroke="#333" stroke-width="0.85"/>
<text x="23.5" y="286.15" font-size="7.04" fill="#4D4D4D" text-anchor="end">0</text>
<line x1="25.3" x2="27.5" y1="219.79" y2="219.79" stroke="#333" stroke-width="0.85"/>
<text x="23.5" y="222.24" font-size="7.04" fill="#4D4D4D" text-anchor="end">25</text>
<line x1="25.3" x2="27.5" y1="155.88" y2="155.88" stroke="#333" stroke-width="0.85"/>
<text x="23.5" y="158.32" font-size="7.04" fill="#4D4D4D" text-anchor="end">50</text>
<line x1="25.3" x2="27.5" y1="91.96" y2="91.96" stroke="#333" stroke-width="0.85"/>
<text x="23.5" y="94.41" font-size="7.04" fill="#4D4D4D" text-anchor="end">75</text>
<line x1="25.3" x2="27.5" y1="28.05" y2="28.05" stroke="#333" stroke-width="0.85"/>
<text x="23.5" y="30.5" font-size="7.04" fill="#4D4D4D" text-anchor="end">100</text>
<text transform="translate(8.0,155.9) rotate(-90)" font-size="8.8" fill="#000" text-anchor="middle">Percentage (%)</text>
<text x="182.5" y="338.8" font-size="8.8" fill="#000" text-anchor="middle">Sample</text>
<text x="350.6" y="80.2" font-size="8.8" fill="#000">dbCAN_family</text>
<rect x="351.3" y="86" width="12.9" height="12.7" fill="#4BAA7E"/>
<text x="369.4" y="94.9" font-size="7.04" fill="#000">CE4</text>
<rect x="351.3" y="100" width="12.9" height="12.7" fill="#D8611D"/>
<text x="369.4" y="108.9" font-size="7.04" fill="#000">GH13</text>
<rect x="351.3" y="114" width="12.9" height="12.7" fill="#7570B3"/>
<text x="369.4" y="122.9" font-size="7.04" fill="#000">GH2</text>
<rect x="351.3" y="128" width="12.9" height="12.7" fill="#E73796"/>
<text x="369.4" y="136.9" font-size="7.04" fill="#000">GH3</text>
<rect x="351.3" y="142" width="12.9" height="12.7" fill="#72B32E"/>
<text x="369.4" y="150.9" font-size="7.04" fill="#000">GT2</text>
<rect x="351.3" y="156" width="12.9" height="12.7" fill="#DAB02E"/>
<text x="369.4" y="164.9" font-size="7.04" fill="#000">GT28</text>
<rect x="351.3" y="170" width="12.9" height="12.7" fill="#A57D2C"/>
<text x="369.4" y="178.9" font-size="7.04" fill="#000">GT35</text>
<rect x="351.3" y="184" width="12.9" height="12.7" fill="#656866"/>
<text x="369.4" y="192.9" font-size="7.04" fill="#000">GT4</text>
<rect x="351.3" y="198" width="12.9" height="12.7" fill="#4584B8"/>
<text x="369.4" y="206.9" font-size="7.04" fill="#000">GT5</text>
<rect x="351.3" y="212" width="12.9" height="12.7" fill="#B25A2C"/>
<text x="369.4" y="220.9" font-size="7.04" fill="#000">GT51</text>
<rect x="351.3" y="226" width="12.9" height="12.7" fill="#6A3C9E"/>
<text x="369.4" y="234.9" font-size="7.04" fill="#000">Others</text>
<text x="420.6" y="8.8" font-size="10.9" font-weight="bold" fill="#000">B</text>
<text x="444.4" y="8.8" font-size="10.66" fill="#000">Log Fold Change of Pairwise Comparisons</text>
<line x1="473" x2="473" y1="15.42" y2="330.28" stroke="#EBEBEB" stroke-width="0.85"/>
<line x1="521.4" x2="521.4" y1="15.42" y2="330.28" stroke="#EBEBEB" stroke-width="0.85"/>
<line x1="569.73" x2="569.73" y1="15.42" y2="330.28" stroke="#EBEBEB" stroke-width="0.85"/>
<line x1="618.17" x2="618.17" y1="15.42" y2="330.28" stroke="#EBEBEB" stroke-width="0.85"/>
<line x1="443.86" x2="647.14" y1="45.9" y2="45.9" stroke="#EBEBEB" stroke-width="0.85"/>
<line x1="443.86" x2="647.14" y1="96.82" y2="96.82" stroke="#EBEBEB" stroke-width="0.85"/>
<line x1="443.86" x2="647.14" y1="147.77" y2="147.77" stroke="#EBEBEB" stroke-width="0.85"/>
<line x1="443.86" x2="647.14" y1="198.35" y2="198.35" stroke="#EBEBEB" stroke-width="0.85"/>
<line x1="443.86" x2="647.14" y1="248.95" y2="248.95" stroke="#EBEBEB" stroke-width="0.85"/>
<line x1="443.86" x2="647.14" y1="299.8" y2="299.8" stroke="#EBEBEB" stroke-width="0.85"/>
<rect x="448.65" y="20.5" width="48.7" height="50.8" fill="#D3D3D3" stroke="#3C3C3C" stroke-width="0.8"/>
<rect x="497.35" y="20.5" width="48.1" height="50.8" fill="#D3D3D3" stroke="#3C3C3C" stroke-width="0.8"/>
<rect x="545.45" y="20.5" width="48.55" height="50.8" fill="#D3D3D3" stroke="#3C3C3C" stroke-width="0.8"/>
<rect x="594" y="20.5" width="48.35" height="50.8" fill="#FF2614" stroke="#3C3C3C" stroke-width="0.8"/>
<rect x="448.65" y="71.3" width="48.7" height="51.05" fill="#D3D3D3" stroke="#3C3C3C" stroke-width="0.8"/>
<rect x="497.35" y="71.3" width="48.1" height="51.05" fill="#D3D3D3" stroke="#3C3C3C" stroke-width="0.8"/>
<rect x="545.45" y="71.3" width="48.55" height="51.05" fill="#D3D3D3" stroke="#3C3C3C" stroke-width="0.8"/>
<rect x="594" y="71.3" width="48.35" height="51.05" fill="#F55A48" stroke="#3C3C3C" stroke-width="0.8"/>
<rect x="448.65" y="122.35" width="48.7" height="50.85" fill="#D3D3D3" stroke="#3C3C3C" stroke-width="0.8"/>
<rect x="497.35" y="122.35" width="48.1" height="50.85" fill="#D3D3D3" stroke="#3C3C3C" stroke-width="0.8"/>
<rect x="545.45" y="122.35" width="48.55" height="50.85" fill="#D3D3D3" stroke="#3C3C3C" stroke-width="0.8"/>
<rect x="594" y="122.35" width="48.35" height="50.85" fill="#FF2211" stroke="#3C3C3C" stroke-width="0.8"/>
<rect x="448.65" y="173.2" width="48.7" height="50.3" fill="#D3D3D3" stroke="#3C3C3C" stroke-width="0.8"/>
<rect x="497.35" y="173.2" width="48.1" height="50.3" fill="#D3D3D3" stroke="#3C3C3C" stroke-width="0.8"/>
<rect x="545.45" y="173.2" width="48.55" height="50.3" fill="#FF3A23" stroke="#3C3C3C" stroke-width="0.8"/>
<rect x="594" y="173.2" width="48.35" height="50.3" fill="#FF2010" stroke="#3C3C3C" stroke-width="0.8"/>
<rect x="448.65" y="223.5" width="48.7" height="50.9" fill="#F09A9E" stroke="#3C3C3C" stroke-width="0.8"/>
<rect x="497.35" y="223.5" width="48.1" height="50.9" fill="#D3D3D3" stroke="#3C3C3C" stroke-width="0.8"/>
<rect x="545.45" y="223.5" width="48.55" height="50.9" fill="#BB98FA" stroke="#3C3C3C" stroke-width="0.8"/>
<rect x="594" y="223.5" width="48.35" height="50.9" fill="#B58FFD" stroke="#3C3C3C" stroke-width="0.8"/>
<rect x="448.65" y="274.4" width="48.7" height="50.8" fill="#EFAFB6" stroke="#3C3C3C" stroke-width="0.8"/>
<rect x="497.35" y="274.4" width="48.1" height="50.8" fill="#EFB0B7" stroke="#3C3C3C" stroke-width="0.8"/>
<rect x="545.45" y="274.4" width="48.55" height="50.8" fill="#B28AFA" stroke="#3C3C3C" stroke-width="0.8"/>
<rect x="594" y="274.4" width="48.35" height="50.8" fill="#C3A2FD" stroke="#3C3C3C" stroke-width="0.8"/>
<text x="473" y="48.65" font-size="7.2" fill="#000" text-anchor="middle">-1.12</text>
<text x="521.4" y="48.65" font-size="7.2" fill="#000" text-anchor="middle">-1.27</text>
<text x="569.73" y="48.65" font-size="7.2" fill="#000" text-anchor="middle">1.65</text>
<text x="618.17" y="48.65" font-size="7.2" fill="#000" text-anchor="middle">2.26</text>
<text x="473" y="99.57" font-size="7.2" fill="#000" text-anchor="middle">-0.55</text>
<text x="521.4" y="99.57" font-size="7.2" fill="#000" text-anchor="middle">-0.55</text>
<text x="569.73" y="99.57" font-size="7.2" fill="#000" text-anchor="middle">1.13</text>
<text x="618.17" y="99.57" font-size="7.2" fill="#000" text-anchor="middle">1.78</text>
<text x="473" y="150.52" font-size="7.2" fill="#000" text-anchor="middle">-1.37</text>
<text x="521.4" y="150.52" font-size="7.2" fill="#000" text-anchor="middle">-1.55</text>
<text x="569.73" y="150.52" font-size="7.2" fill="#000" text-anchor="middle">2.09</text>
<text x="618.17" y="150.52" font-size="7.2" fill="#000" text-anchor="middle">2.34</text>
<text x="473" y="201.1" font-size="7.2" fill="#000" text-anchor="middle">-1.24</text>
<text x="521.4" y="201.1" font-size="7.2" fill="#000" text-anchor="middle">-1.43</text>
<text x="569.73" y="201.1" font-size="7.2" fill="#000" text-anchor="middle">2.12</text>
<text x="618.17" y="201.1" font-size="7.2" fill="#000" text-anchor="middle">2.36</text>
<text x="473" y="251.7" font-size="7.2" fill="#000" text-anchor="middle">0.85</text>
<text x="521.4" y="251.7" font-size="7.2" fill="#000" text-anchor="middle">0.41</text>
<text x="569.73" y="251.7" font-size="7.2" fill="#000" text-anchor="middle">-0.84</text>
<text x="618.17" y="251.7" font-size="7.2" fill="#000" text-anchor="middle">-0.9</text>
<text x="473" y="302.55" font-size="7.2" fill="#000" text-anchor="middle">0.61</text>
<text x="521.4" y="302.55" font-size="7.2" fill="#000" text-anchor="middle">0.6</text>
<text x="569.73" y="302.55" font-size="7.2" fill="#000" text-anchor="middle">-0.95</text>
<text x="618.17" y="302.55" font-size="7.2" fill="#000" text-anchor="middle">-0.68</text>
<text x="440.1" y="48.65" font-size="7.04" fill="#4D4D4D" text-anchor="end">GT9</text>
<text x="440.1" y="99.57" font-size="7.04" fill="#4D4D4D" text-anchor="end">GT83</text>
<text x="440.1" y="150.52" font-size="7.04" fill="#4D4D4D" text-anchor="end">GT19</text>
<text x="440.1" y="201.1" font-size="7.04" fill="#4D4D4D" text-anchor="end">GT30</text>
<text x="440.1" y="251.7" font-size="7.04" fill="#4D4D4D" text-anchor="end">GH32</text>
<text x="440.1" y="302.55" font-size="7.04" fill="#4D4D4D" text-anchor="end">GH1</text>
<text x="473" y="339.6" font-size="7.04" fill="#4D4D4D" text-anchor="middle">CG vs. IN4</text>
<text x="521.4" y="339.6" font-size="7.04" fill="#4D4D4D" text-anchor="middle">IN1 vs. IN4</text>
<text x="569.73" y="339.6" font-size="7.04" fill="#4D4D4D" text-anchor="middle">IN4 vs. CE1</text>
<text x="618.17" y="339.6" font-size="7.04" fill="#4D4D4D" text-anchor="middle">IN4 vs. CE4</text>
<defs><linearGradient id="cb" x1="0" y1="0" x2="0" y2="1"><stop offset="0.000" stop-color="#FF2010"/><stop offset="0.061" stop-color="#FF3A23"/><stop offset="0.148" stop-color="#F55A48"/><stop offset="0.348" stop-color="#EF8A88"/><stop offset="0.386" stop-color="#F09A9E"/><stop offset="0.448" stop-color="#EFAFB6"/><stop offset="0.514" stop-color="#E6C2D2"/><stop offset="0.604" stop-color="#E0DCF0"/><stop offset="0.777" stop-color="#C3A2FD"/><stop offset="0.818" stop-color="#BB98FA"/><stop offset="0.847" stop-color="#B28AFA"/><stop offset="1.000" stop-color="#7D4BFF"/></linearGradient></defs>
<rect x="660.75" y="138.1" width="13.8" height="69.5" fill="url(#cb)"/>
<line x1="660.75" x2="663.5" y1="144.5" y2="144.5" stroke="#fff" stroke-opacity="0.75" stroke-width="0.7"/>
<line x1="671.8" x2="674.55" y1="144.5" y2="144.5" stroke="#fff" stroke-opacity="0.75" stroke-width="0.7"/>
<text x="679.0" y="147.05" font-size="7.04" fill="#4D4D4D">2</text>
<line x1="660.75" x2="663.5" y1="162.27" y2="162.27" stroke="#fff" stroke-opacity="0.75" stroke-width="0.7"/>
<line x1="671.8" x2="674.55" y1="162.27" y2="162.27" stroke="#fff" stroke-opacity="0.75" stroke-width="0.7"/>
<text x="679.0" y="164.82" font-size="7.04" fill="#4D4D4D">1</text>
<line x1="660.75" x2="663.5" y1="180.05" y2="180.05" stroke="#fff" stroke-opacity="0.75" stroke-width="0.7"/>
<line x1="671.8" x2="674.55" y1="180.05" y2="180.05" stroke="#fff" stroke-opacity="0.75" stroke-width="0.7"/>
<text x="679.0" y="182.6" font-size="7.04" fill="#4D4D4D">0</text>
<line x1="660.75" x2="663.5" y1="197.82" y2="197.82" stroke="#fff" stroke-opacity="0.75" stroke-width="0.7"/>
<line x1="671.8" x2="674.55" y1="197.82" y2="197.82" stroke="#fff" stroke-opacity="0.75" stroke-width="0.7"/>
<text x="679.0" y="200.37" font-size="7.04" fill="#4D4D4D">-1</text>
</svg></body></html>
